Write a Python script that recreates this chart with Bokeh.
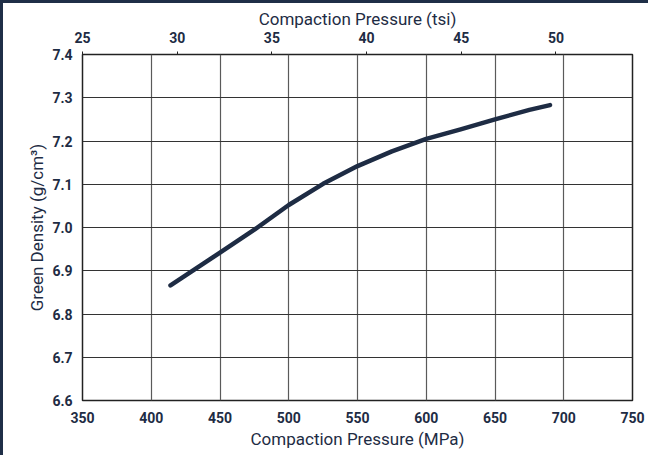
from bokeh.plotting import figure
from bokeh.models import Range1d, LinearAxis, FixedTicker, PrintfTickFormatter
from bokeh.embed import file_html
from bokeh.resources import INLINE

# Data
pressure_mpa = [414, 450, 475, 500, 525, 550, 575, 600, 625, 650, 675, 690]
green_density = [6.866, 6.942, 6.995, 7.052, 7.101, 7.142, 7.176, 7.205, 7.227, 7.250, 7.272, 7.283]

mpa_ticks = [350, 400, 450, 500, 550, 600, 650, 700, 750]
tsi_ticks = [25, 30, 35, 40, 45, 50]
density_ticks = [6.6, 6.7, 6.8, 6.9, 7.0, 7.1, 7.2, 7.3, 7.4]

NAVY = "#1e2c44"
FONT = "Roboto"

p = figure(width=648, height=455, output_backend="svg", toolbar_location=None,
           x_range=Range1d(350, 750), y_range=Range1d(6.6, 7.4),
           min_border_left=79, min_border_top=51, min_border_right=19, min_border_bottom=58)
p.styles = {"border-top": "3px solid #1f2f47", "border-left": "3px solid #1f2f47"}

p.extra_x_ranges = {"tsi": Range1d(25, 54.04)}

p.outline_line_color = "#222222"
p.outline_line_width = 1.5

# grids
p.xgrid.ticker = FixedTicker(ticks=mpa_ticks)
p.ygrid.ticker = FixedTicker(ticks=density_ticks)
p.xgrid.grid_line_color = "#5a5a5a"
p.ygrid.grid_line_color = "#333333"
p.xgrid.grid_line_width = 1.2
p.ygrid.grid_line_width = 1
p.xgrid.grid_line_alpha = 1
p.ygrid.grid_line_alpha = 1

def style_axis(ax):
    ax.axis_line_color = None
    ax.major_tick_line_color = None
    ax.minor_tick_line_color = None
    ax.major_label_text_font = FONT
    ax.major_label_text_font_style = "bold"
    ax.major_label_text_font_size = "14px"
    ax.major_label_text_color = NAVY
    ax.axis_label_text_font = FONT
    ax.axis_label_text_font_style = "normal"
    ax.axis_label_text_font_size = "17px"
    ax.axis_label_text_color = NAVY

xa = p.xaxis[0]
style_axis(xa)
xa.ticker = FixedTicker(ticks=mpa_ticks)
xa.axis_label = "Compaction Pressure (MPa)"
xa.major_tick_out = 0
xa.major_label_standoff = 11
xa.axis_label_standoff = 3

ya = p.yaxis[0]
style_axis(ya)
ya.ticker = FixedTicker(ticks=density_ticks)
ya.formatter = PrintfTickFormatter(format="%.1f")
ya.axis_label = "Green Density (g/cm³)"
ya.major_tick_out = 0
ya.major_label_standoff = 10
ya.axis_label_standoff = 2

top = LinearAxis(x_range_name="tsi", axis_label="Compaction Pressure (tsi)")
style_axis(top)
top.ticker = FixedTicker(ticks=tsi_ticks)
top.major_tick_line_color = "#222222"
top.major_tick_out = 3
top.major_tick_in = 0
top.major_label_standoff = 9
top.axis_label_standoff = 0
p.add_layout(top, "above")

p.line(pressure_mpa, green_density, line_color=NAVY, line_width=4.5, line_cap="round", line_join="round")

open("out.html", "w").write(file_html(p, INLINE))
